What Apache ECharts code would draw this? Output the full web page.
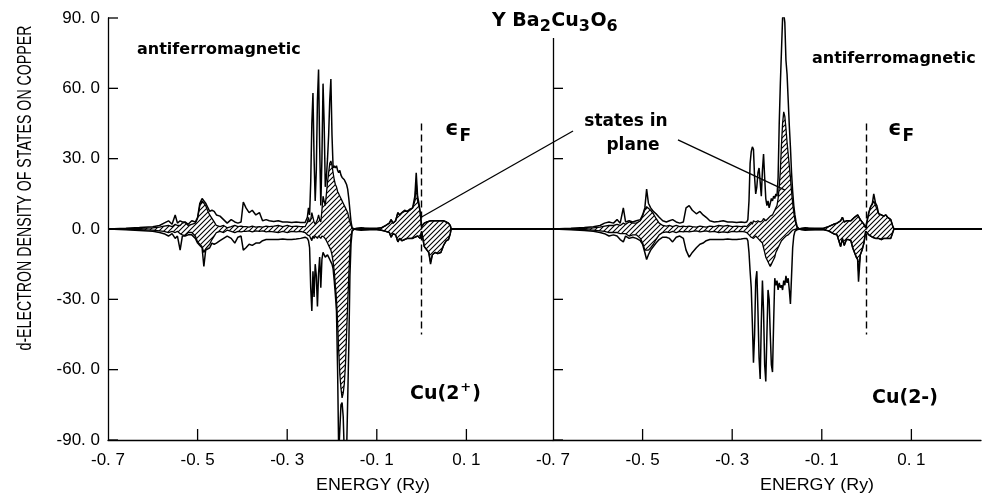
<!DOCTYPE html>
<html><head><meta charset="utf-8">
<script src="https://cdn.jsdelivr.net/npm/echarts@6/dist/echarts.min.js"></script>
<style>html,body{margin:0;padding:0;background:#fff}#c{width:982px;height:495px}</style>
</head><body><div id="c"></div>
<script>
// ---------- data ----------
// Cu(2+) panel (left)
const energyL = [-0.7,-0.66,-0.63,-0.6,-0.585,-0.575,-0.565,-0.557,-0.55,-0.545,
 -0.539,-0.534,-0.528,-0.521,-0.513,-0.505,-0.5,-0.495,-0.49,-0.486,
 -0.482,-0.478,-0.473,-0.468,-0.463,-0.458,-0.45,-0.442,-0.434,-0.425,
 -0.417,-0.41,-0.403,-0.398,-0.392,-0.385,-0.378,-0.37,-0.362,-0.355,
 -0.347,-0.34,-0.33,-0.32,-0.31,-0.3,-0.29,-0.28,-0.27,
 -0.26,-0.2575,-0.255,-0.2525,-0.25,-0.2475,-0.245,-0.2425,-0.24,-0.2375,
 -0.235,-0.2325,-0.23,-0.2275,-0.225,-0.2225,-0.22,-0.2175,-0.215,-0.2125,
 -0.21,-0.2075,-0.205,-0.2025,-0.2,-0.1975,-0.195,-0.1925,-0.19,-0.1875,
 -0.185,-0.1825,-0.18,-0.1775,-0.175,-0.1725,-0.17,-0.1675,-0.165,-0.1625,
 -0.16,-0.1575,-0.155,-0.1525,-0.15,
 -0.145,-0.135,-0.132,-0.128,-0.115,-0.1,-0.09,-0.08,-0.072,-0.068,
 -0.064,-0.058,-0.053,-0.049,-0.044,-0.038,-0.032,-0.026,-0.02,-0.015,
 -0.012,-0.009,-0.006,-0.003,0,0.003,0.006,0.012,0.016,0.02,
 0.024,0.03,0.036,0.043,0.049,0.055,0.06,0.064,0.066,0.3];
const upTotalL = [0,0.3,0.6,1,1.5,2.5,3.5,2,6,2.5, 3.5,3,3,2,3.5,3,5,11,13,13,
 11,9.5,7.5,8,7.5,6,5.5,4,2.5,4, 3,2.5,3,11.5,9,7,8,6,7,3.5, 4,3.5,3.2,3.5,3,3,2.8,3,2.8,
 2.8,3,5,9,6,20,45,58,30,12, 25,55,68,35,10,30,62,45,18,22,
 30,40,55,64,40,26,27,26,27,25, 24,25,23,22,22,21,20,19,17,13, 8,3,0.5,0.3,0,
 0.3,0.5,1.2,0.4,0.3,0.3,0.5,1.5,2.5,4, 2.5,3.5,7,6,7,8,7.5,8.5,9,14,
 24,14,11,7,1,0.5,2.5,3,3,3.5, 3.5,3.5,3.5,3.5,3.5,3,2.5,1.5,0,0];
const upPlaneL = [0,0.1,0.3,0.5,0.8,1.2,1.5,1,2,1.5, 1.5,2.5,2.8,1.5,2,2.5,4.5,10,12,11.5,
 10,8,6,4.5,3,1.5,1,1.5,0.5,1, 1.5,1,1.2,1,1,0.8,1.2,0.8,1,0.8, 1.2,1,1.2,1.5,1,1.5,1,1.2,1,
 1,1.5,3,5,3,4,7,5,3,2, 3,4,6,4,3,8,14,12,10,15,
 20,24,28,29,27,24,21,19,18,16, 15,14,13,12,11,10,9,8,7,5, 3,1.5,0.3,0.2,0,
 0.2,0.3,1,0.3,0.2,0.2,0.5,1.5,2.5,4, 2.5,3.5,7,6,7,7.5,7.5,8,9,12,
 20,12,10,7,1,0.5,2.5,3,3,3.5, 3.5,3.5,3.5,3.5,3.5,3,2.5,1.5,0,0];
const downTotalL = [0,-0.3,-0.6,-1,-1.5,-2,-3,-2,-4,-3, -9,-3,-3,-2.5,-2.5,-4,-6,-7,-8,-16,
 -9,-8.5,-8,-6,-6.5,-6,-5,-4,-3,-4, -6,-3.5,-3,-9,-8,-6.5,-7,-6,-6,-5, -4.5,-4.5,-4.5,-4.5,-4.3,-4.5,-4.5,-4.3,-4,
 -3.5,-3,-4,-5,-8,-25,-35,-18,-29,-15, -20,-33,-19,-12,-25,-13,-10,-11,-12,-12,
 -11,-12,-13,-14,-15,-17,-22,-28,-35,-60, -96,-96,-75,-74,-80,-96,-96,-96,-96,-50, -20,-6,-1,-0.3,0,
 -0.3,-0.5,-1.2,-0.4,-0.3,-0.3,-0.5,-1,-1.5,-3.5, -2,-2.5,-5.5,-4,-5,-4.5,-4,-4,-4,-3.5,
 -3,-3,-3,-4,-1,-0.5,-7.5,-9,-10,-15, -11,-10,-10.5,-10,-7,-5,-4.5,-2,0,0];
const downPlaneL = [0,-0.1,-0.3,-0.5,-0.8,-1,-1.5,-1,-1.5,-1, -2,-2.5,-2.8,-1.5,-1.5,-3,-5.5,-6.5,-7.5,-10,
 -8.5,-7.5,-6.5,-4.5,-3,-1.5,-1,-1.5,-0.5,-1, -1.5,-1,-1.2,-1,-1,-0.8,-1.2,-0.8,-1,-0.8, -1.2,-1,-1.2,-1.5,-1,-1.5,-1,-1.2,-1,
 -1.5,-1.5,-2.5,-3,-3,-4,-5,-3,-4,-3, -3,-4,-3,-2.5,-4,-3,-3,-3.5,-4,-5,
 -6,-7,-8,-9,-11,-14,-18,-24,-30,-40, -52,-62,-68,-72,-70,-66,-58,-45,-32,-20, -9,-3,-0.5,-0.2,0,
 -0.2,-0.3,-1,-0.3,-0.2,-0.2,-0.5,-1,-1.5,-3.5, -2,-2.5,-5.5,-4,-5,-4.5,-4,-4,-4,-3.5,
 -3,-3,-3,-4,-1,-0.5,-7.5,-9,-10,-14, -11,-10,-10.5,-10,-7,-5,-4.5,-2,0,0];

// Cu(2-) panel (right)
const energyR = [-0.7,-0.66,-0.63,-0.61,-0.595,-0.585,-0.575,-0.565,-0.557,-0.55,
 -0.543,-0.538,-0.53,-0.522,-0.514,-0.505,-0.5,-0.495,-0.491,-0.487,
 -0.482,-0.476,-0.47,-0.463,-0.455,-0.447,-0.44,-0.433,-0.425,-0.417,
 -0.409,-0.403,-0.396,-0.389,-0.38,-0.372,-0.365,-0.358,-0.35,-0.34,
 -0.33,-0.32,-0.31,-0.3,-0.29,-0.28,-0.272,
 -0.2675,-0.265,-0.2625,-0.26,-0.2575,-0.255,-0.2525,-0.25,-0.2475,-0.245,
 -0.2425,-0.24,-0.2375,-0.235,-0.2325,-0.23,-0.2275,-0.225,-0.2225,-0.22,
 -0.2175,-0.215,-0.2125,-0.21,-0.2075,-0.205,-0.2025,-0.2,-0.1975,-0.195,
 -0.1925,-0.19,-0.1875,-0.185,-0.1825,-0.18,-0.1775,-0.175,-0.1725,-0.17,
 -0.1675,-0.165,-0.1625,-0.16,-0.1575,-0.155,-0.1525,-0.15,
 -0.145,-0.137,-0.134,-0.13,-0.115,-0.096,-0.085,-0.074,-0.066,-0.058,
 -0.054,-0.05,-0.045,-0.04,-0.035,-0.031,-0.027,-0.023,-0.02,-0.018,
 -0.014,-0.01,-0.006,-0.002,0.002,0.005,0.009,0.013,0.016,0.02,
 0.023,0.027,0.033,0.038,0.043,0.047,0.054,0.058,0.061,0.3];
const upTotalR = [0,0.3,0.6,1,1.5,2.5,3,2.5,4,2.5, 9,3,3.5,3,3.5,4,6,9,17,11,
 9,7.5,6.5,5,3.5,3,3.5,4,3,2.5, 3,9,10,8,6.5,7.5,6,5,3.5,3, 3.2,3.5,3,3,2.8,3,2.8,
 3,4,12,28,33,35,34,22,15,18, 24,26,20,14,25,32,22,13,10,12,
 9,11,13,12,14,13,15,14,22,45, 62,76,90,92,88,72,66,55,44,35, 24,16,10,6,3,1,0.3,0,
 0.3,0.5,1.2,0.4,0.3,0.3,1,2,2.5,3.5, 5,3,3.5,3.5,3.5,4,5,5.5,6,5.5,
 4,3,2,0.5,1,7,9.5,11,15,11, 10,6.5,6,5.5,6,5,4,1.5,0,0];
const upPlaneR = [0,0.1,0.3,0.5,0.8,1.2,1.5,1.5,2,1.5, 2.5,2,3,2.5,2.5,3.5,5.5,8.5,9.5,9,
 8,6.5,4.5,2.5,1.5,1.2,1.5,1,1.5,1, 1.2,1,1.2,1,0.8,1.2,1,0.8,1.2,1, 1.5,1.2,1.5,1,1.2,1,1.2,
 1,1.5,2,2.5,3,2,3.5,4,3,2.5, 3.5,4,3,2.5,3.5,4.5,4,3.5,4,4.5,
 5,5.5,6,6,7,8,9,10,13,18, 25,36,45,50,48,43,37,32,27,22, 16,11,7,4,2,0.5,0.2,0,
 0.2,0.3,1,0.3,0.2,0.3,1,2,2.5,3.5, 5,3,3.5,3.5,3.5,4,5,5.5,6,5.5,
 4,3,2,0.5,1,7,9.5,10.5,12,10, 9.5,6.5,6,5.5,6,5,4,1.5,0,0];
const downTotalR = [0,-0.3,-0.6,-1,-1.5,-2,-3,-2.5,-3,-4.5, -5.5,-3,-4,-3.5,-4,-5,-6.5,-10,-13,-11,
 -9,-7.5,-6,-4.5,-3.5,-3.5,-4,-5.5,-3.5,-3, -4,-9,-12,-10,-8,-6.5,-6,-5,-4.5,-4.5, -4.5,-4.5,-4.3,-4.5,-4.5,-4.3,-4,
 -4,-5,-10,-18,-25,-40,-57,-45,-22,-18, -35,-55,-64,-40,-22,-35,-58,-65,-45,-26,
 -30,-45,-58,-61,-40,-21,-24,-22,-26,-23, -25,-24,-26,-22,-24,-20,-23,-21,-26,-32, -20,-8,-3,-1,-0.5,-0.3,-0.2,0,
 -0.3,-0.5,-1.2,-0.4,-0.3,-0.3,-0.8,-2,-2.5,-7.5, -4,-7,-4.5,-4.5,-5,-8,-10,-12,-13,-22.5,
 -11,-9,-6,-1,-0.5,-2.5,-3,-3.5,-3.5,-4, -4,-4,-4.5,-4,-4,-4.5,-4,-3.5,0,0];
const downPlaneR = [0,-0.1,-0.3,-0.5,-0.8,-1,-1.5,-1.5,-1.5,-2, -2,-2,-3,-2.5,-2.5,-4,-6,-9,-9.5,-9,
 -8,-6.5,-4.5,-2.5,-1.5,-1.2,-1.5,-1,-1.5,-1, -1.2,-1,-1.2,-1,-0.8,-1.2,-1,-0.8,-1.2,-1, -1.5,-1.2,-1.5,-1,-1.2,-1,-1.2,
 -1.5,-2,-2.5,-3,-3.5,-3,-4,-3.5,-3,-3.5, -4,-4.5,-5,-4.5,-6,-8,-10,-12,-13,-14,
 -15,-16,-15,-14,-13,-12,-10,-9,-8,-7, -6,-5,-4.5,-4,-3.5,-3,-3,-2.5,-2,-1.5, -1,-0.5,-0.3,-0.2,-0.1,-0.1,0,0,
 -0.2,-0.3,-1,-0.3,-0.2,-0.3,-0.8,-2,-2.5,-7.5, -4,-7,-4.5,-4.5,-5,-8,-10,-12,-13,-18,
 -11,-9,-6,-1,-0.5,-2.5,-3,-3.5,-3.5,-4, -4,-4,-4.5,-4,-4,-4.5,-4,-3.5,0,0];

// axes / annotation values
const xTickValues = [-0.7, -0.5, -0.3, -0.1, 0.1];
const yTickValues = [-90, -60, -30, 0, 30, 60, 90];
const fermiEnergy = 0.0;
const fermiMarkerRange = [-45, 45];
const pointerLeft = [[0.338, 41.8], [0.0, 5.1]];     // "states in plane" pointer (left panel coords)
const pointerRight = [[-0.421, 38.0], [-0.182, 16.6]]; // (right panel coords)

// ---------- helpers ----------
function zip(a, b) { return a.map((x, i) => [x, b[i]]); }
function hatch() {
  const s = 5, c = document.createElement('canvas');
  c.width = s; c.height = s;
  const g = c.getContext('2d');
  g.strokeStyle = '#000'; g.lineWidth = 1.1;
  g.beginPath();
  g.moveTo(0, s); g.lineTo(s, 0);
  g.moveTo(-1, 1); g.lineTo(1, -1);
  g.moveTo(s - 1, s + 1); g.lineTo(s + 1, s - 1);
  g.stroke();
  return c;
}
const hatchImg = hatch();
const fmt = v => Number(v).toFixed(1).replace('.', '. ');
const mctx = document.createElement('canvas').getContext('2d');
function tw(t, font) { mctx.font = font; return mctx.measureText(t).width; }

const BLACK = '#000';
const LFONT = '"Liberation Sans", Arial, sans-serif';
const GFONT = '"DejaVu Sans", Verdana, sans-serif';
const XMIN = [-0.7, -0.7], XMAX = [0.2933, 0.2554];

function panelSeries(gi, E, tu, pu, td, pd) {
  const base = { type: 'line', xAxisIndex: gi, yAxisIndex: gi, symbol: 'none', showSymbol: false,
    silent: true, animation: false, sampling: false };
  const hatchArea = { color: { image: hatchImg, repeat: 'repeat' }, opacity: 1 };
  return [
    Object.assign({}, base, { data: zip(E, pu), lineStyle: { color: BLACK, width: 1.3 }, areaStyle: hatchArea, z: 3,
      markLine: { silent: true, symbol: ['none', 'none'], label: { show: false }, animation: false,
        lineStyle: { color: BLACK, type: [7, 4], width: 1.4 },
        data: [[{ coord: [fermiEnergy, fermiMarkerRange[1]] }, { coord: [fermiEnergy, fermiMarkerRange[0]] }]] } }),
    Object.assign({}, base, { data: zip(E, pd), lineStyle: { color: BLACK, width: 1.3 }, areaStyle: hatchArea, z: 3 }),
    Object.assign({}, base, { data: zip(E, tu), lineStyle: { color: BLACK, width: 1.5 }, z: 4 }),
    Object.assign({}, base, { data: zip(E, td), lineStyle: { color: BLACK, width: 1.5 }, z: 4 })
  ];
}

function xAxisCfg(gi) {
  return { type: 'value', gridIndex: gi, min: XMIN[gi], max: XMAX[gi], position: 'bottom',
    axisLine: { show: true, onZero: false, lineStyle: { color: BLACK, width: 1.3 } },
    axisTick: { show: false },
    axisLabel: { customValues: xTickValues, formatter: fmt, color: BLACK, fontSize: 17, fontFamily: LFONT, margin: 12 },
    splitLine: { show: false } };
}
function yAxisCfg(gi, showLabel) {
  return { type: 'value', gridIndex: gi, min: -90, max: 90, interval: 30,
    axisLine: { show: true, onZero: false, lineStyle: { color: BLACK, width: 1.3 } },
    axisTick: { show: false },
    axisLabel: { show: showLabel, formatter: fmt, color: BLACK, fontSize: 17, fontFamily: LFONT, margin: 8 },
    splitLine: { show: false } };
}

const chart = echarts.init(document.getElementById('c'), null, { renderer: 'canvas' });
chart.setOption({
  animation: false,
  backgroundColor: '#fff',
  grid: [
    { left: 108, top: 18, width: 445, height: 422 },
    { left: 553, top: 18, width: 428, height: 422 }
  ],
  xAxis: [xAxisCfg(0), xAxisCfg(1)],
  yAxis: [yAxisCfg(0, true), yAxisCfg(1, false)],
  series: [].concat(
    panelSeries(0, energyL, upTotalL, upPlaneL, downTotalL, downPlaneL),
    panelSeries(1, energyR, upTotalR, upPlaneR, downTotalR, downPlaneR)
  )
});

// ---------- text, ticks & annotations ----------
const G = [];
function txt(t, x, y, font, align, extra) {
  G.push(Object.assign({ type: 'text', x: x, y: y, z: 100, silent: true,
    style: { text: t, font: font, fill: BLACK, textAlign: align || 'left', textVerticalAlign: 'middle' } }, extra || {}));
}
function seg(a, b, w) {
  G.push({ type: 'line', z: 90, silent: true, shape: { x1: a[0], y1: a[1], x2: b[0], y2: b[1] },
    style: { stroke: BLACK, lineWidth: w || 1.3 } });
}
// inward tick marks placed through each panel's scales
[0, 1].forEach(gi => {
  yTickValues.forEach(v => {
    const p = chart.convertToPixel({ gridIndex: gi }, [XMIN[gi], v]);
    seg([p[0], p[1]], [p[0] + 10, p[1]]);
  });
  xTickValues.forEach(v => {
    if (v <= XMIN[gi]) return;
    const p = chart.convertToPixel({ gridIndex: gi }, [v, -90]);
    seg([p[0], p[1]], [p[0], p[1] - 11]);
  });
});

// y-axis name (tall, condensed)
const yName = 'd-ELECTRON DENSITY OF STATES ON COPPER';
const yFont = '20px ' + LFONT;
txt(yName, 25, 188, yFont, 'center', { rotation: Math.PI / 2, scaleX: 325 / tw(yName, yFont) });
// x-axis names
txt('ENERGY (Ry)', 373, 485, '17px ' + LFONT, 'center', { scaleX: 1.05 });
txt('ENERGY (Ry)', 817, 485, '17px ' + LFONT, 'center', { scaleX: 1.05 });

// title with subscripts
const tMain = 'bold 19px ' + GFONT, tSub = 'bold 16px ' + GFONT;
G.push({ type: 'rect', z: 99, silent: true, shape: { x: 486, y: 4, width: 138, height: 34 }, style: { fill: '#fff' } });
let tx = 492;
[['Y Ba', 0], ['2', 1], ['Cu', 0], ['3', 1], ['O', 0], ['6', 1]].forEach(([t, s]) => {
  const f = s ? tSub : tMain;
  txt(t, tx, s ? 27 : 21, f, 'left');
  tx += tw(t, f) + (s ? 0.5 : 0);
});

// antiferromagnetic labels
txt('antiferromagnetic', 137, 50, 'bold 16px ' + GFONT, 'left');
txt('antiferromagnetic', 812, 59, 'bold 16px ' + GFONT, 'left');

// epsilon_F labels
[445, 888].forEach(x0 => {
  const fe = 'bold 21px ' + GFONT, ff = 'bold 17px ' + GFONT;
  txt('\u03F5', x0, 130, fe, 'left');
  txt('F', x0 + tw('\u03F5', fe) + 1, 137, ff, 'left');
});

// states in plane
txt('states in', 626, 122, 'bold 17px ' + GFONT, 'center');
txt('plane', 633, 146, 'bold 17px ' + GFONT, 'center');

// Cu(2+) / Cu(2-)
(function () {
  const f = 'bold 19px ' + GFONT, fs = 'bold 13px ' + GFONT;
  let x = 410;
  txt('Cu(2', x, 394, f, 'left'); x += tw('Cu(2', f) + 1;
  txt('+', x, 388, fs, 'left'); x += tw('+', fs) + 1;
  txt(')', x, 394, f, 'left');
  txt('Cu(2-)', 872, 398, f, 'left');
})();

// pointer lines for "states in plane"
seg(chart.convertToPixel({ gridIndex: 0 }, pointerLeft[0]), chart.convertToPixel({ gridIndex: 0 }, pointerLeft[1]), 1.3);
seg(chart.convertToPixel({ gridIndex: 1 }, pointerRight[0]), chart.convertToPixel({ gridIndex: 1 }, pointerRight[1]), 1.3);

chart.setOption({ graphic: { elements: G } });
</script>
</body></html>
